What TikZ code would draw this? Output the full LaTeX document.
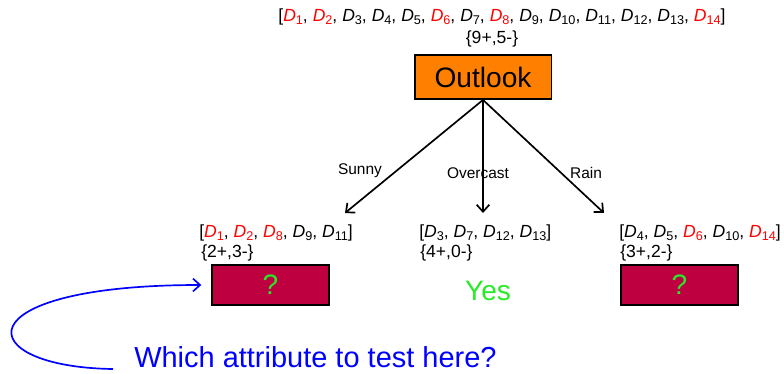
\documentclass[tikz,border=0pt]{standalone}
\usepackage{fontspec}
\setmainfont{Liberation Sans}
\usetikzlibrary{arrows.meta, positioning}
\definecolor{attrorange}{RGB}{255,128,0}
\definecolor{leafred}{RGB}{190,0,64}
\definecolor{leafgreen}{RGB}{40,235,40}
\newcommand{\Dx}[1]{\textit{D}\raisebox{-0.35ex}{\fontsize{9}{9}\selectfont #1}}
\newcommand{\Dr}[1]{\textcolor{red}{\Dx{#1}}}
\tikzset{
    >={Straight Barb[length=5pt, width=9pt]},
    tree_attr/.style={
        rectangle,
        draw=black,
        fill=attrorange,
        line width=1.3pt,
        minimum width=3.42cm,
        minimum height=1.1cm,
        font=\fontsize{20}{24}\selectfont
    },
    tree_leaf/.style={
        rectangle,
        draw=black,
        fill=leafred,
        line width=1.3pt,
        minimum width=2.92cm,
        minimum height=1cm,
        text=leafgreen,
        font=\fontsize{20}{24}\selectfont
    },
    tree_answer/.style={
        text=leafgreen,
        font=\fontsize{20}{24}\selectfont
    },
    tree_list/.style={
        inner sep=0pt,
        font=\fontsize{12.5}{15}\selectfont
    },
    tree_branch/.style={
        inner sep=0pt,
        font=\fontsize{11}{13}\selectfont
    },
    tree_edge/.style={
        ->,
        line width=1.2pt
    },
    tree_hint/.style={
        ->,
        draw=blue,
        line width=1.2pt,
        shorten >=7pt
    }
}

\begin{document}
\begin{tikzpicture}[x=0.025cm, y=-0.025cm]
\useasboundingbox (0,0) rectangle (784,374);

% --- Root ---
\node[tree_list] (rootList) at (502,17) {[\Dr{1}, \Dr{2}, \Dx{3}, \Dx{4}, \Dx{5}, \Dr{6}, \Dx{7}, \Dr{8}, \Dx{9}, \Dx{10}, \Dx{11}, \Dx{12}, \Dx{13}, \Dr{14}]};
\node[tree_list] (rootCount) at (492,39) {\{9+,5-\}};
\node[tree_attr] (Outlook) at (483,77) {Outlook};

% --- Branch ends ---
\coordinate (sunnyEnd) at (345,213);
\coordinate (overcastEnd) at (483,213);
\coordinate (rainEnd) at (604,213);

% --- Branch labels ---
\node[tree_branch] (sunnyLab) at (360,171) {Sunny};
\node[tree_branch] (overcastLab) at (478,173) {Overcast};
\node[tree_branch] (rainLab) at (586,173) {Rain};

% --- Sunny ---
\node[tree_list, anchor=west] (sunnyList) at (199,233) {[\Dr{1}, \Dr{2}, \Dr{8}, \Dx{9}, \Dx{11}]};
\node[tree_list, anchor=west] (sunnyCount) at (201,253) {\{2+,3-\}};
\node[tree_leaf] (sunnyLeaf) at (270.5,285) {?};

% --- Overcast ---
\node[tree_list, anchor=west] (overcastList) at (419,233) {[\Dx{3}, \Dx{7}, \Dx{12}, \Dx{13}]};
\node[tree_list, anchor=west] (overcastCount) at (420,253) {\{4+,0-\}};
\node[tree_answer] (overcastLeaf) at (488,291) {Yes};

% --- Rain ---
\node[tree_list, anchor=west] (rainList) at (619,233) {[\Dx{4}, \Dx{5}, \Dr{6}, \Dx{10}, \Dr{14}]};
\node[tree_list, anchor=west] (rainCount) at (620,253) {\{3+,2-\}};
\node[tree_leaf] (rainLeaf) at (679.5,285) {?};

% --- Hint ---
\node[tree_answer, text=blue, anchor=west, inner sep=0pt, font=\fontsize{20.6}{24}\selectfont] (hint) at (134,357) {Which attribute to test here?};
\coordinate (hintStart) at (113,369);

% --- Edges ---
\draw[tree_edge] (Outlook.south) -- (sunnyEnd);
\draw[tree_edge] (Outlook.south) -- (overcastEnd);
\draw[tree_edge] (Outlook.south) -- (rainEnd);
\draw[tree_hint] (hintStart) .. controls (-30,367) and (-40,285) .. (sunnyLeaf.west);

\end{tikzpicture}
\end{document}
